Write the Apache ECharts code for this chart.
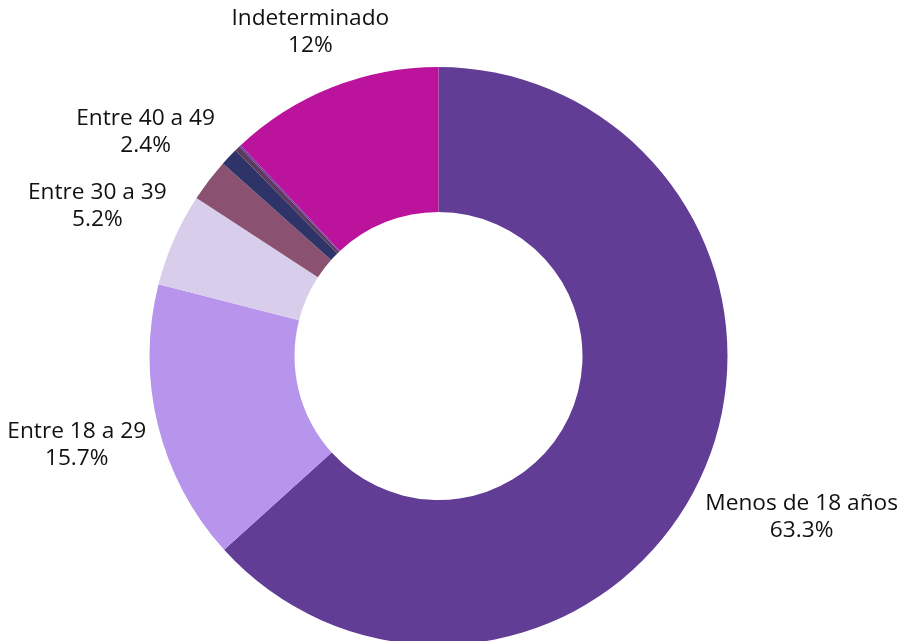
<!DOCTYPE html>
<html>
<head>
<meta charset="utf-8">
<script src="https://cdn.jsdelivr.net/npm/echarts@6/dist/echarts.min.js"></script>
<style>
  html, body { margin: 0; padding: 0; background: #fff; }
  #main { width: 901px; height: 641px; }
</style>
</head>
<body>
<div id="main"></div>
<script>
// datos del gráfico (porcentajes)
const categories = ['Menos de 18 años', 'Entre 18 a 29', 'Entre 30 a 39', 'Entre 40 a 49', 'Entre 50 a 59', 'Entre 60 a 69', 'Más de 70', 'Indeterminado'];
const values = [63.3, 15.7, 5.2, 2.4, 1.0, 0.3, 0.1, 12];
const showLabel = [true, true, true, true, false, false, false, true];
const colors = ['#613d96', '#b795ec', '#d9cdec', '#8a5270', '#2e3468', '#5e3a5e', '#6b40a6', '#bb139c'];

const cx = 438.5, cy = 356, rOut = 289, rIn = 144;
const total = values.reduce((a, b) => a + b, 0);

// ángulo medio de cada porción (desde las 12, sentido horario)
const midAngles = [];
let acc = 0;
values.forEach(v => {
  midAngles.push((acc + v / 2) / total * Math.PI * 2);
  acc += v;
});

const myChart = echarts.init(document.getElementById('main'));

let option = {
  animation: false,
  color: colors,
  series: [{
    type: 'pie',
    center: [cx, cy],
    radius: [rIn, rOut],
    startAngle: 90,
    clockwise: true,
    label: {
      show: true,
      position: 'outside',
      formatter: p => p.name + '\n' + p.value + '%',
      fontFamily: 'Open Sans',
      fontSize: 22.7,
      lineHeight: 27,
      color: '#111',
      align: 'center',
      overflow: 'none'
    },
    labelLine: { show: false },
    labelLayout: params => {
      const a = midAngles[params.dataIndex];
      const s = Math.sin(a), c = -Math.cos(a);
      const w = params.labelRect.width, h = params.labelRect.height;
      const d = rOut + 2 + 8 * Math.abs(s) + Math.abs(s) * w / 2 + Math.abs(c) * h / 2;
      return { x: cx + d * s, y: cy + d * c, align: 'center', verticalAlign: 'middle' };
    },
    data: categories.map((name, i) => ({
      name: name,
      value: values[i],
      label: { show: showLabel[i] }
    }))
  }]
};

myChart.setOption(option);
</script>
</body>
</html>
